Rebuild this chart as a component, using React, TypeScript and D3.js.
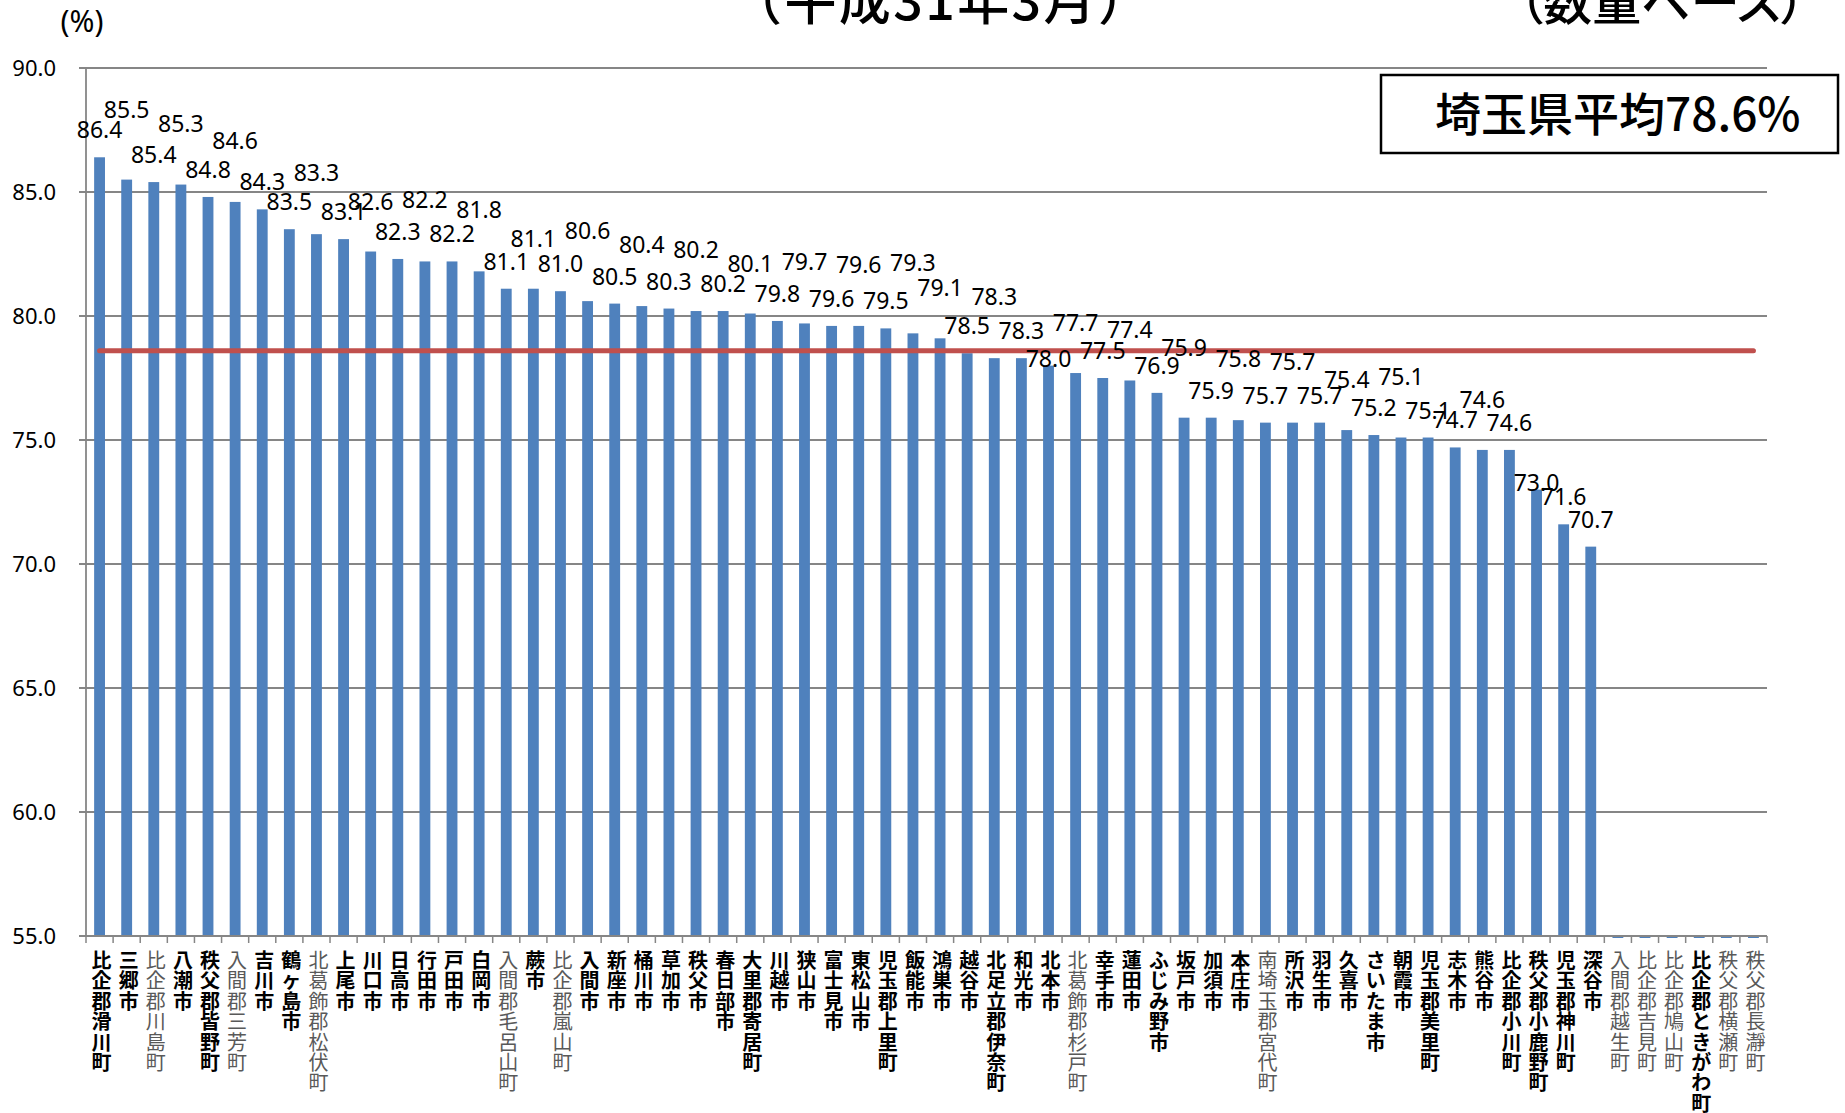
import React from 'react';
import * as d3 from 'd3';

// municipalities in chart order, left to right
const municipalities = [
  '比企郡滑川町', '三郷市', '比企郡川島町', '八潮市', '秩父郡皆野町', '入間郡三芳町', '吉川市', '鶴ヶ島市',
  '北葛飾郡松伏町', '上尾市', '川口市', '日高市', '行田市', '戸田市', '白岡市', '入間郡毛呂山町',
  '蕨市', '比企郡嵐山町', '入間市', '新座市', '桶川市', '草加市', '秩父市', '春日部市',
  '大里郡寄居町', '川越市', '狭山市', '富士見市', '東松山市', '児玉郡上里町', '飯能市', '鴻巣市',
  '越谷市', '北足立郡伊奈町', '和光市', '北本市', '北葛飾郡杉戸町', '幸手市', '蓮田市', 'ふじみ野市',
  '坂戸市', '加須市', '本庄市', '南埼玉郡宮代町', '所沢市', '羽生市', '久喜市', 'さいたま市',
  '朝霞市', '児玉郡美里町', '志木市', '熊谷市', '比企郡小川町', '秩父郡小鹿野町', '児玉郡神川町', '深谷市',
  '入間郡越生町', '比企郡吉見町', '比企郡鳩山町', '比企郡ときがわ町', '秩父郡横瀬町', '秩父郡長瀞町',
];

// share (%) — the last six have no value on this scale
const shareValues: (number | null)[] = [
  86.4, 85.5, 85.4, 85.3, 84.8, 84.6, 84.3, 83.5,
  83.3, 83.1, 82.6, 82.3, 82.2, 82.2, 81.8, 81.1,
  81.1, 81.0, 80.6, 80.5, 80.4, 80.3, 80.2, 80.2,
  80.1, 79.8, 79.7, 79.6, 79.6, 79.5, 79.3, 79.1,
  78.5, 78.3, 78.3, 78.0, 77.7, 77.5, 77.4, 76.9,
  75.9, 75.9, 75.8, 75.7, 75.7, 75.7, 75.4, 75.2,
  75.1, 75.1, 74.7, 74.6, 74.6, 73.0, 71.6, 70.7,
  null, null, null, null, null, null,
];

// names printed in thin grey in the original axis
const greyNames = [
  '比企郡川島町', '入間郡三芳町', '北葛飾郡松伏町', '入間郡毛呂山町', '比企郡嵐山町', '北葛飾郡杉戸町',
  '南埼玉郡宮代町', '入間郡越生町', '比企郡吉見町', '比企郡鳩山町', '秩父郡横瀬町', '秩父郡長瀞町',
];

// how far each value label was lifted (hand-placed in the original)
const labelTier = [
  0, 3, 0, 2, 0, 2, 0, 0, 2, 0, 1, 0, 2, 0, 2, 0,
  1, 0, 3, 0, 2, 0, 2, 0, 1, 0, 2, 0, 2, 0, 3, 1,
  0, 2, 0, -1, 1, 0, 1, 0, 3, 0, 2, 0, 2, 0, 1, 0,
  2, 0, 0, 1, 0, -1, 0, 0,
];

const yTicks = [55, 60, 65, 70, 75, 80, 85, 90];
const prefAverage = 78.6;
const averageText = '埼玉県平均78.6%';
const titleMain = '（平成31年3月）';
const titleSub = '（数量ベース）';
const unitLabel = '(%)';

const W = 1845;
const H = 1113;
const margin = { left: 86, right: 78, top: 68, bottom: 177 };

const tierGap: Record<number, number> = { '-1': 7, 0: 27, 1: 50, 2: 61, 3: 70 };

const numFont = '"Noto Sans", "DejaVu Sans", sans-serif';
const cjkFont = '"Noto Sans CJK JP", "Noto Sans", sans-serif';

export default function App() {
  const x0 = margin.left;
  const x1 = W - margin.right;
  const y0 = margin.top;
  const y1 = H - margin.bottom;

  const x = d3.scaleBand<string>()
    .domain(municipalities)
    .range([x0, x1])
    .paddingInner(0.6)
    .paddingOuter(0.3);

  const y = d3.scaleLinear().domain([55, 90]).range([y1, y0]);

  const step = x.step();
  const bw = x.bandwidth();
  const centre = (name: string) => (x(name) ?? 0) + bw / 2;
  const boundaries = d3.range(municipalities.length + 1).map(i => x0 + i * step);

  const grey = new Set(greyNames);
  const gridColor = '#868686';

  return (
    <svg
      width={W}
      height={H}
      style={{ position: 'absolute', left: 0, top: 0, background: '#fff' }}
    >
      {/* title, cut at the top edge as in the source */}
      <text x={940} y={20} textAnchor="middle" fontFamily={cjkFont} fontSize={52} fontWeight={500}
        textLength={420} lengthAdjust="spacing">{titleMain}</text>
      <text x={1662} y={20} textAnchor="middle" fontFamily={cjkFont} fontSize={49} fontWeight={500}
        style={{ fontFeatureSettings: "'palt'" }}>{titleSub}</text>

      <text x={82} y={32} textAnchor="middle" fontFamily={numFont} fontSize={30}>{unitLabel}</text>

      {/* gridlines + y ticks */}
      {yTicks.map(t => (
        <g key={t}>
          <line x1={x0 - 7} x2={x1} y1={y(t)} y2={y(t)} stroke={gridColor} strokeWidth={1.8} />
          <text x={56} y={y(t) + 8} textAnchor="end" fontFamily={numFont} fontSize={22}>
            {t.toFixed(1)}
          </text>
        </g>
      ))}
      <line x1={x0} x2={x0} y1={y0} y2={y1} stroke={gridColor} strokeWidth={1.8} />

      {/* bars */}
      {municipalities.map((m, i) => {
        const v = shareValues[i];
        if (v == null) {
          return <rect key={m} x={x(m)} y={y(55) - 1} width={bw} height={3} fill="#4F81BD" />;
        }
        return <rect key={m} x={x(m)} y={y(v)} width={bw} height={y(55) - y(v)} fill="#4F81BD" />;
      })}

      {/* x axis */}
      <line x1={x0} x2={x1} y1={y1} y2={y1} stroke={gridColor} strokeWidth={1.8} />
      {boundaries.map((bx, i) => (
        <line key={i} x1={bx} x2={bx} y1={y1} y2={y1 + 7} stroke={gridColor} strokeWidth={1.5} />
      ))}

      {/* prefecture average */}
      <line
        x1={centre(municipalities[0])}
        x2={centre(municipalities[municipalities.length - 1])}
        y1={y(prefAverage)}
        y2={y(prefAverage)}
        stroke="#C0504D"
        strokeWidth={5}
        strokeLinecap="round"
      />

      {/* value labels */}
      {municipalities.map((m, i) => {
        const v = shareValues[i];
        if (v == null) return null;
        const gap = tierGap[labelTier[i]];
        return (
          <text key={m} x={centre(m)} y={y(v) - gap + 8} textAnchor="middle"
            fontFamily={numFont} fontSize={23} fill="#000">
            {v.toFixed(1)}
          </text>
        );
      })}

      {/* vertical category labels, one character per line */}
      {municipalities.map(m => {
        const light = grey.has(m);
        return (
          <text key={m} textAnchor="middle" fontFamily={cjkFont} fontSize={20}
            fontWeight={light ? 400 : 700} fill={light ? '#595959' : '#000'}>
            {Array.from(m).map((ch, k) => (
              <tspan key={k} x={centre(m) + 2} y={968 + k * 20.4}>{ch}</tspan>
            ))}
          </text>
        );
      })}

      {/* average box */}
      <rect x={1381} y={75} width={457} height={78} fill="#fff" stroke="#000" strokeWidth={2.5} />
      <text x={1435} y={131} fontFamily={cjkFont} fontSize={46} fontWeight={500} fill="#000">
        {averageText}
      </text>
    </svg>
  );
}
